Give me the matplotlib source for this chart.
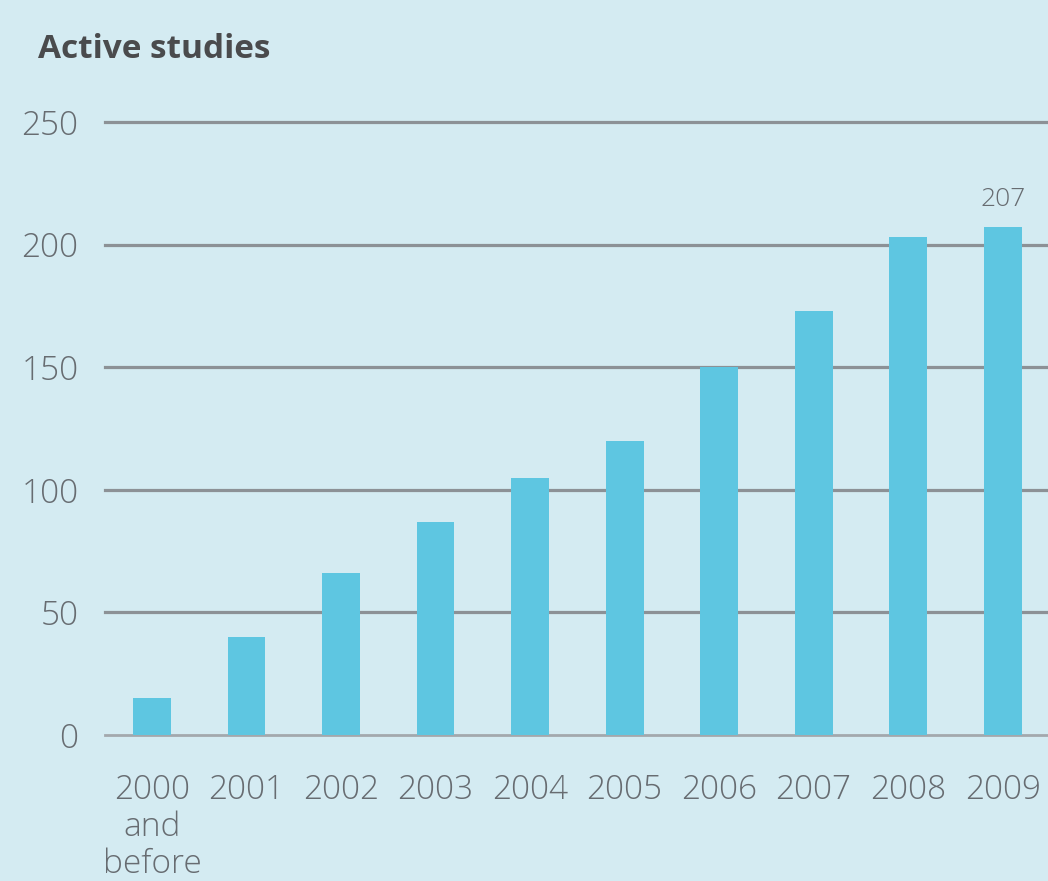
import matplotlib
matplotlib.use("Agg")
import matplotlib.pyplot as plt

categories = ["2000\nand\nbefore", "2001", "2002", "2003", "2004", "2005", "2006", "2007", "2008", "2009"]
values = [15, 40, 66, 87, 105, 120, 150, 173, 203, 207]
yticks = [0, 50, 100, 150, 200, 250]
title = "Active studies"

bg = "#d4ebf2"
bar_color = "#5ec6e1"
grid_color = "#8c9196"
text_color = "#676c71"

fig = plt.figure(figsize=(10.48, 8.81), dpi=100, facecolor=bg)
ax = fig.add_axes([0.1, 0.1657, 0.9, 0.6958], facecolor=bg)

x = list(range(len(categories)))
ax.bar(x, values, width=0.4, color=bar_color, zorder=3)

for t in yticks[1:]:
    ax.axhline(t, color=grid_color, lw=2.3, zorder=1, clip_on=False)
ax.axhline(0, color="#a3a8ad", lw=2.0, zorder=2, clip_on=False)

ax.set_xlim(-0.5, 9.48)
ax.set_ylim(0, 250)
for s in ax.spines.values():
    s.set_visible(False)

fam = ["Open Sans", "DejaVu Sans"]
ax.set_yticks(yticks)
ax.set_yticklabels([str(t) for t in yticks], fontsize=24, color=text_color, family=fam, fontweight="light")
ax.set_xticks(x)
ax.set_xticklabels(categories, fontsize=24, color=text_color, family=fam, fontweight="light",
                   linespacing=1.13)
ax.tick_params(axis="both", length=0)
ax.tick_params(axis="y", pad=19)
ax.tick_params(axis="x", pad=28)

ax.annotate(str(values[-1]), (x[-1], values[-1]), xytext=(0, 11), textcoords="offset points",
            ha="center", va="bottom", fontsize=19, color=text_color, family=fam, fontweight="light")

fig.text(0.036, 0.944, title, fontsize=24, fontweight="bold", color="#4a4b4d",
         family=["Open Sans", "DejaVu Sans"], ha="left", va="center")

fig.savefig("out.png", dpi=100, facecolor=bg)
